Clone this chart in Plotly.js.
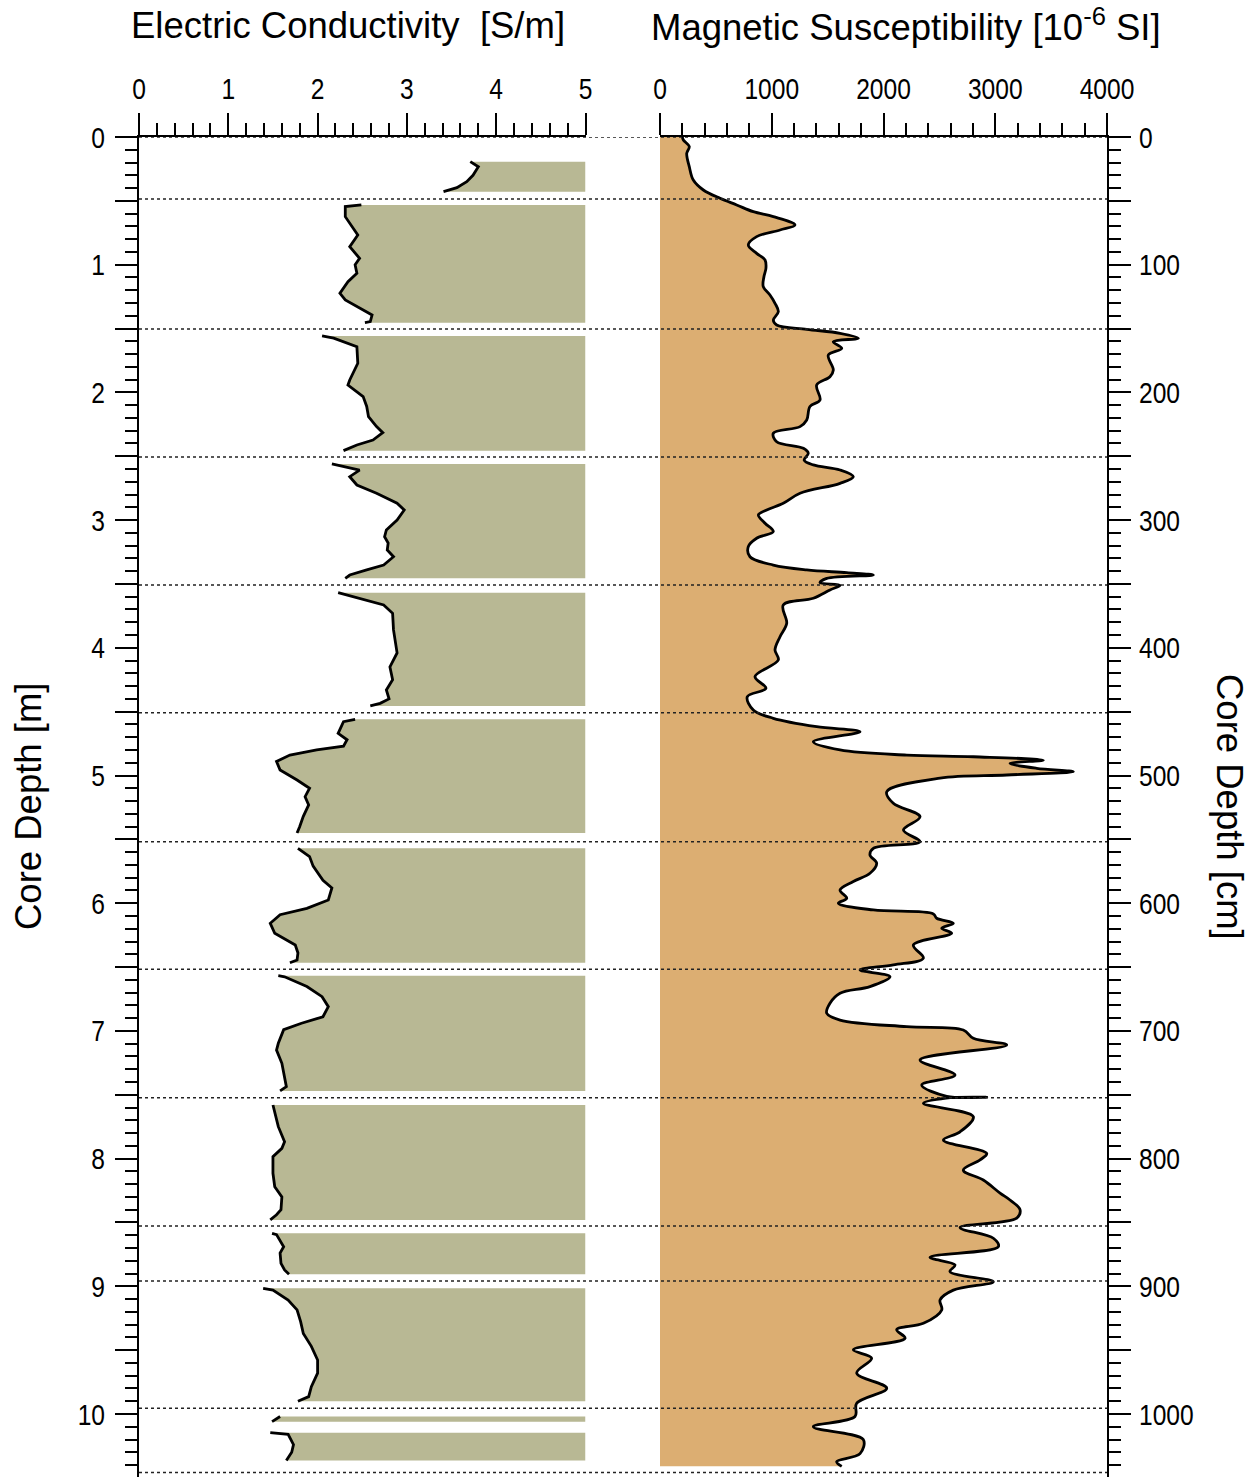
<!DOCTYPE html>
<html>
<head>
<meta charset="utf-8">
<script src="https://cdn.plot.ly/plotly-3.0.1.min.js"></script>
<style>
html,body{margin:0;padding:0;background:#fff;}
#chart{width:1258px;height:1477px;}
</style>
</head>
<body>
<div id="chart"></div>
<script>
// ---------------- DATA ----------------
// Electric conductivity [S/m] vs core depth [m]; null separates core sections
const ecDepth = [
  0.193,0.233,0.30,0.35,0.397,0.428, null,
  0.532,0.545,0.624,0.676,0.767,0.859,0.95,1.00,1.067,1.133,1.224,1.276,1.355,1.394,1.446,1.454, null,
  1.558,1.575,1.642,1.772,1.903,1.942,2.033,2.11,2.19,2.268,2.315,2.373,2.412,2.456, null,
  2.56,2.608,2.66,2.725,2.79,2.868,2.921,2.999,3.077,3.13,3.18,3.234,3.287,3.352,3.39,3.43,3.456, null,
  3.568,3.612,3.665,3.73,3.86,4.04,4.15,4.25,4.33,4.40,4.435,4.455, null,
  4.56,4.578,4.67,4.72,4.77,4.80,4.84,4.89,4.957,5.035,5.10,5.166,5.23,5.32,5.40,5.45, null,
  5.57,5.635,5.71,5.82,5.88,5.975,6.04,6.09,6.157,6.235,6.327,6.39,6.445,6.466, null,
  6.568,6.576,6.653,6.732,6.81,6.889,6.94,6.99,7.097,7.15,7.254,7.358,7.437,7.47, null,
  7.58,7.64,7.75,7.868,7.92,7.985,8.115,8.22,8.30,8.40,8.44,8.48, null,
  8.585,8.595,8.69,8.74,8.82,8.872,8.905, null,
  9.016,9.03,9.107,9.185,9.277,9.37,9.47,9.577,9.68,9.786,9.864,9.90, null,
  10.02,10.06, null,
  10.146,10.16,10.24,10.30,10.365
];
const ecValue = [
  3.71,3.80,3.74,3.67,3.56,3.41, null,
  2.49,2.31,2.31,2.36,2.45,2.36,2.47,2.42,2.44,2.34,2.25,2.31,2.51,2.61,2.59,2.53, null,
  2.05,2.18,2.44,2.45,2.36,2.34,2.51,2.55,2.57,2.66,2.73,2.62,2.44,2.29, null,
  2.16,2.47,2.36,2.44,2.66,2.89,2.97,2.89,2.77,2.75,2.79,2.78,2.85,2.74,2.55,2.36,2.31, null,
  2.23,2.47,2.74,2.84,2.85,2.89,2.81,2.84,2.77,2.80,2.70,2.59, null,
  2.42,2.29,2.23,2.33,2.29,1.99,1.69,1.54,1.58,1.77,1.91,1.86,1.90,1.84,1.80,1.77, null,
  1.78,1.91,1.95,2.06,2.16,2.12,1.88,1.58,1.47,1.52,1.75,1.78,1.77,1.69, null,
  1.56,1.63,1.88,2.05,2.12,2.06,1.82,1.62,1.56,1.54,1.60,1.63,1.65,1.58, null,
  1.50,1.52,1.56,1.63,1.60,1.50,1.50,1.52,1.60,1.59,1.54,1.47, null,
  1.49,1.54,1.62,1.58,1.59,1.63,1.68, null,
  1.39,1.50,1.67,1.77,1.81,1.84,1.93,2.00,2.00,1.93,1.90,1.78, null,
  1.58,1.49, null,
  1.47,1.67,1.73,1.71,1.65
];

// Magnetic susceptibility [10^-6 SI] vs core depth [m]
const msDepth = [
  0.0,0.023,0.075,0.128,0.232,0.337,0.415,0.48,0.532,0.585,0.624,0.689,0.728,0.78,0.846,0.911,0.963,1.028,1.094,1.172,
  1.237,1.302,1.368,1.433,1.472,1.506,1.537,1.576,1.603,1.655,1.707,1.825,1.877,1.942,2.06,2.11,2.216,2.268,2.32,2.386,
  2.438,2.477,2.53,2.568,2.608,2.66,2.712,2.79,2.868,2.921,2.96,3.025,3.09,3.142,3.208,3.287,3.352,3.39,3.412,3.43,
  3.456,3.49,3.51,3.547,3.612,3.665,3.808,3.913,4.017,4.095,4.226,4.317,4.383,4.487,4.552,4.618,4.657,4.735,4.80,4.84,
  4.853,4.88,4.905,4.944,4.97,4.996,5.02,5.127,5.218,5.323,5.427,5.518,5.57,5.623,5.687,5.766,5.83,5.897,5.961,6.0,
  6.053,6.084,6.118,6.157,6.197,6.235,6.327,6.43,6.483,6.523,6.575,6.653,6.705,6.783,6.862,6.915,6.967,6.993,7.058,7.11,
  7.228,7.345,7.424,7.512,7.519,7.526,7.567,7.672,7.79,7.855,7.96,8.01,8.09,8.168,8.27,8.324,8.40,8.466,8.54,8.624,
  8.69,8.773,8.833,8.885,8.964,9.03,9.107,9.185,9.29,9.34,9.407,9.498,9.563,9.68,9.798,9.916,10.02,10.1,10.2,10.31,
  10.373,10.41
];
const msValue = [
  200,209,262,239,262,298,388,537,686,835,1014,1208,1074,865,790,865,940,948,930,924,
  984,1029,1059,1014,1044,1313,1611,1775,1551,1626,1506,1551,1521,1402,1432,1342,1313,1253,1014,1044,
  1283,1327,1290,1372,1611,1730,1611,1253,1103,955,880,940,1014,865,790,805,1014,1313,1671,1909,
  1492,1432,1611,1521,1372,1103,1134,1074,1029,1059,850,948,781,835,1014,1402,1790,1372,1611,2208,
  2804,3430,3132,3371,3699,3103,2506,2029,2088,2327,2178,2327,1909,1879,1939,1879,1730,1611,1671,1596,
  1909,2446,2476,2625,2521,2610,2267,2357,2088,1790,2058,1879,1611,1521,1492,1611,2208,2714,2804,3103,
  2327,2640,2342,2566,2924,2560,2357,2804,2685,2536,2924,2864,2714,2893,3043,3132,3222,3192,2685,2983,
  3028,2416,2640,2595,2983,2625,2506,2521,2357,2118,2193,1730,1894,1760,2029,1760,1745,1372,1819,1790,
  1581,1626
];

// Core section boundaries [m] (dotted lines)
const sectionBreaks = [0, 0.486, 1.503, 2.506, 3.508, 4.508, 5.518, 6.518, 7.523, 8.528, 8.959, 9.955, 10.459];

// Axis ticks
const ecTickVals = [0,1,2,3,4,5];
const msTickVals = [0,1000,2000,3000,4000];
const depthMTickVals = [0,0.5,1,1.5,2,2.5,3,3.5,4,4.5,5,5.5,6,6.5,7,7.5,8,8.5,9,9.5,10];
const depthMTickText = ['0',' ','1',' ','2',' ','3',' ','4',' ','5',' ','6',' ','7',' ','8',' ','9',' ','10'];
const depthCmTickVals = [0,50,100,150,200,250,300,350,400,450,500,550,600,650,700,750,800,850,900,950,1000];
const depthCmTickText = ['0',' ','100',' ','200',' ','300',' ','400',' ','500',' ','600',' ','700',' ','800',' ','900',' ','1000'];

// ---------------- BUILD ----------------
const EC_MAX = 5;
const W = 1258, H = 1477, TOP = 137;
const FONT = '"Liberation Sans", Arial, Helvetica, sans-serif';
const OLIVE = 'rgb(184,184,148)';
const ORANGE = 'rgb(220,174,114)';
const NARROW = 0.82;   // tick labels are set in a narrow face

// fill polygons for EC sections (curve -> right axis edge)
const polyX = [], polyY = [];
let seg = [];
function flush(){
  if(!seg.length) return;
  seg.forEach(p => { polyX.push(p[0]); polyY.push(p[1]); });
  polyX.push(EC_MAX, EC_MAX); polyY.push(seg[seg.length-1][1], seg[0][1]);
  polyX.push(null); polyY.push(null);
  seg = [];
}
for(let i=0;i<ecDepth.length;i++){
  if(ecDepth[i]===null){ flush(); } else { seg.push([ecValue[i], ecDepth[i]]); }
}
flush();

const traces = [
  {x: polyX, y: polyY, xaxis:'x', yaxis:'y', type:'scatter', mode:'lines',
   fill:'toself', fillcolor: OLIVE, line:{width:0, color:OLIVE}, hoverinfo:'skip', connectgaps:false},
  {x: ecValue, y: ecDepth, xaxis:'x', yaxis:'y', type:'scatter', mode:'lines',
   line:{color:'#000', width:2.8}, connectgaps:false},
  {x: msValue, y: msDepth, xaxis:'x2', yaxis:'y', type:'scatter', mode:'lines',
   fill:'tozerox', fillcolor: ORANGE, line:{color:'#000', width:2.8, shape:'spline', smoothing:1.0}},
  {x: [], y: [], xaxis:'x2', yaxis:'y2', type:'scatter', mode:'lines', showlegend:false}
];

const plotH = H - TOP;
const depthMax = plotH / 127.7;      // metres shown
const tickFont = {family: FONT, size: 30, color:'#000'};
const titleFont = {family: FONT, size: 36.5, color:'#000'};

const shapes = sectionBreaks.map(d => ({
  type:'line', xref:'paper', yref:'y', x0: 139/W, x1: 1107/W, y0: d, y1: d,
  line:{color:'#222', width:1.5, dash:'dot'}, layer:'above'
}));

function axisCommon(){
  return {showline:true, linecolor:'#000', linewidth:2, showgrid:false, zeroline:false,
          ticks:'outside', ticklen:22, tickwidth:2, tickcolor:'#000', tickfont: tickFont};
}

const layout = {
  width: W, height: H,
  margin:{l:0, r:0, t:TOP, b:0, pad:0},
  paper_bgcolor:'#fff', plot_bgcolor:'rgba(0,0,0,0)',
  showlegend:false,
  font:{family: FONT, color:'#000'},
  xaxis: Object.assign(axisCommon(), {
    domain:[139/W, 585.5/W], range:[0, EC_MAX], side:'top', anchor:'y',
    tickmode:'array', tickvals: ecTickVals,
    minor:{dtick:0.2, tick0:0, ticks:'outside', ticklen:12, tickwidth:2, tickcolor:'#000', showgrid:false},
    ticklabelstandoff: 2
  }),
  xaxis2: Object.assign(axisCommon(), {
    domain:[660/W, 1107/W], range:[0, 4000], side:'top', anchor:'y',
    tickmode:'array', tickvals: msTickVals,
    minor:{dtick:200, tick0:0, ticks:'outside', ticklen:12, tickwidth:2, tickcolor:'#000', showgrid:false},
    ticklabelstandoff: 2
  }),
  yaxis: Object.assign(axisCommon(), {
    domain:[0,1], range:[depthMax, 0], anchor:'x', side:'left',
    tickmode:'array', tickvals: depthMTickVals, ticktext: depthMTickText,
    minor:{dtick:0.1, tick0:0, ticks:'outside', ticklen:12, tickwidth:2, tickcolor:'#000', showgrid:false},
    ticklabelstandoff: 4
  }),
  yaxis2: Object.assign(axisCommon(), {
    domain:[0,1], range:[depthMax*100, 0], anchor:'x2', side:'right', overlaying:'y',
    tickmode:'array', tickvals: depthCmTickVals, ticktext: depthCmTickText,
    minor:{dtick:10, tick0:0, ticks:'outside', ticklen:12, tickwidth:2, tickcolor:'#000', showgrid:false},
    ticklabelstandoff: 2
  }),
  shapes: shapes,
  annotations:[
    {text:'Electric Conductivity \u00a0[S/m]', xref:'paper', yref:'paper', x:347.5/W, y:(H-25)/plotH,
     xanchor:'center', yanchor:'middle', showarrow:false, font:titleFont},
    {text:'Magnetic Susceptibility [10<sup>-6</sup> SI]', xref:'paper', yref:'paper', x:906/W, y:(H-25)/plotH,
     xanchor:'center', yanchor:'middle', showarrow:false, font:titleFont},
    {text:'Core Depth [m]', xref:'paper', yref:'paper', x:28/W, y:(H-807)/plotH, textangle:-90,
     xanchor:'center', yanchor:'middle', showarrow:false, font:titleFont},
    {text:'Core Depth [cm]', xref:'paper', yref:'paper', x:1230/W, y:(H-807)/plotH, textangle:90,
     xanchor:'center', yanchor:'middle', showarrow:false, font:titleFont}
  ]
};

function narrowTicks(gd){
  gd.querySelectorAll('g.xtick text, g.x2tick text, g.ytick text, g.y2tick text').forEach(t => {
    const x = parseFloat(t.getAttribute('x')) || 0;
    const y = parseFloat(t.getAttribute('y')) || 0;
    const tr = t.getAttribute('transform') || '';
    t.setAttribute('transform', tr + ' translate(' + x + ',' + y + ') scale(' + NARROW + ',1) translate(' + (-x) + ',' + (-y) + ')');
  });
}

Plotly.newPlot('chart', traces, layout, {staticPlot:true, displayModeBar:false}).then(narrowTicks);
</script>
</body>
</html>
